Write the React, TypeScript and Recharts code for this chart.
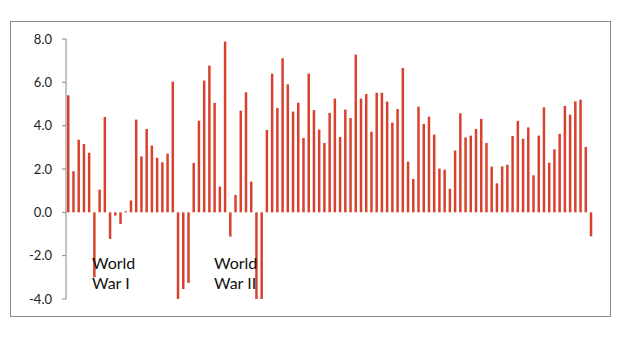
import { BarChart, Bar, XAxis, YAxis } from 'recharts';

// one bar per year, 1909-2009
const years: number[] = [];
for (let y = 1909; y <= 2009; y++) years.push(y);

const growth = [
  5.4, 1.9, 3.35, 3.15, 2.75, -3.0, 1.05, 4.4, -1.23, -0.15,
  -0.54, 0.05, 0.55, 4.28, 2.58, 3.85, 3.08, 2.52, 2.31, 2.71,
  6.03, -4.1, -3.54, -3.26, 2.28, 4.23, 6.08, 6.77, 5.05, 1.19,
  7.88, -1.12, 0.8, 4.69, 5.54, 1.42, -4.1, -4.1, 3.8, 6.4,
  4.82, 7.11, 5.91, 4.65, 5.06, 3.43, 6.4, 4.72, 3.82, 3.2,
  4.59, 5.25, 3.48, 4.74, 4.35, 7.28, 5.25, 5.46, 3.72, 5.52,
  5.52, 5.11, 4.14, 4.77, 6.66, 2.34, 1.54, 4.88, 4.08, 4.42,
  3.59, 2.02, 1.97, 1.09, 2.85, 4.57, 3.46, 3.54, 3.85, 4.31,
  3.2, 2.11, 1.34, 2.12, 2.2, 3.52, 4.22, 3.4, 3.92, 1.71,
  3.54, 4.85, 2.29, 2.91, 3.62, 4.91, 4.51, 5.12, 5.2, 3.02,
  -1.11,
];

const yTicks = [-4, -2, 0, 2, 4, 6, 8];

const notes = [
  { lines: ['World', 'War I'], left: 92 },
  { lines: ['World', 'War II'], left: 214 },
];

const data = years.map((year, i) => ({ year, value: growth[i] }));

export default function App() {
  return (
    <div style={{ position: 'absolute', left: 0, top: 0, width: 620, height: 340, background: '#fff' }}>
      <div
        style={{
          position: 'absolute',
          left: 10,
          top: 21,
          width: 599,
          height: 294,
          border: '1px solid #8a8a8a',
        }}
      />
      <div style={{ position: 'absolute', left: 0, top: 0 }}>
        <BarChart
          width={620}
          height={340}
          data={data}
          margin={{ top: 39, right: 26, bottom: 41, left: 0 }}
          barCategoryGap={0}
        >
          <XAxis dataKey="year" hide />
          <YAxis
            width={66}
            domain={[-4, 8]}
            ticks={yTicks}
            allowDataOverflow
            interval={0}
            tickFormatter={(v: number) => v.toFixed(1)}
            axisLine={{ stroke: '#868686' }}
            tickLine={{ stroke: '#868686' }}
            tickSize={4}
            tickMargin={10}
            tick={{ fill: '#222', fontSize: 13, fontFamily: 'Lato, "Open Sans", sans-serif' }}
          />
          <Bar dataKey="value" fill="#d9412f" barSize={2.5} isAnimationActive={false} />
        </BarChart>
      </div>
      {notes.map((n) => (
        <div
          key={n.left}
          style={{
            position: 'absolute',
            left: n.left,
            top: 253,
            fontFamily: 'Lato, "Open Sans", sans-serif',
            fontSize: 16,
            lineHeight: '20px',
            color: '#111',
          }}
        >
          {n.lines.map((l) => (
            <div key={l}>{l}</div>
          ))}
        </div>
      ))}
    </div>
  );
}
